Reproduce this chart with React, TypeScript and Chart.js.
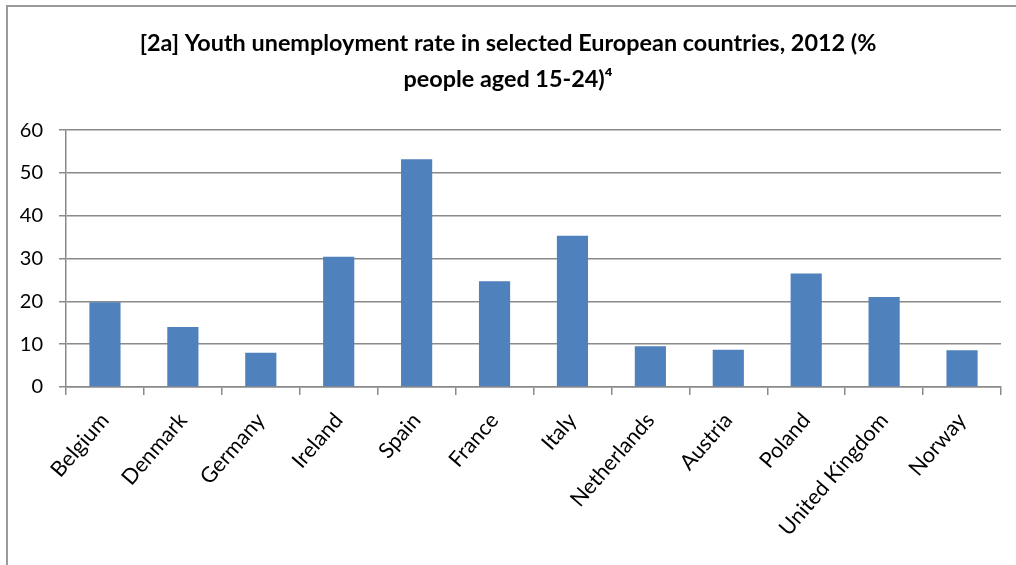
import React, { useEffect, useRef } from "react";
import { Chart, registerables } from "chart.js";

Chart.register(...registerables);

const countries = [
  "Belgium",
  "Denmark",
  "Germany",
  "Ireland",
  "Spain",
  "France",
  "Italy",
  "Netherlands",
  "Austria",
  "Poland",
  "United Kingdom",
  "Norway",
];

const youthUnemployment = [19.8, 14.0, 8.0, 30.4, 53.2, 24.7, 35.3, 9.5, 8.7, 26.5, 21.0, 8.6];

const titleLines = [
  "[2a] Youth unemployment rate in selected European countries, 2012 (%",
  "people aged 15-24)\u2074",
];

const yMin = 0;
const yMax = 60;
const yStep = 10;

const FONT = "Lato, 'Open Sans', sans-serif";
const GRID = "#8a8a8a";

export default function App() {
  const ref = useRef<HTMLCanvasElement | null>(null);

  useEffect(() => {
    if (!ref.current) return;
    const chart = new Chart(ref.current, {
      type: "bar",
      data: {
        labels: countries,
        datasets: [
          {
            label: "Youth unemployment rate",
            data: youthUnemployment,
            backgroundColor: "#4F81BD",
            borderWidth: 0,
            barPercentage: 0.4,
            categoryPercentage: 1,
          },
        ],
      },
      options: {
        responsive: false,
        animation: false,
        layout: { padding: { left: 15, right: 15, top: 0, bottom: 0 } },
        plugins: {
          legend: { display: false },
          tooltip: { enabled: false },
          title: {
            display: true,
            text: titleLines,
            color: "#000",
            font: { family: FONT, size: 23.4, weight: "bold", lineHeight: 1.54 },
            padding: { top: 25, bottom: 33 },
          },
        },
        scales: {
          x: {
            grid: {
              display: true,
              drawOnChartArea: false,
              drawTicks: true,
              tickLength: 8,
              color: GRID,
              lineWidth: 1.5,
              offset: true,
            },
            border: { display: true, color: GRID, width: 1.5 },
            ticks: {
              color: "#000",
              font: { family: FONT, size: 21.5 },
              maxRotation: 49,
              minRotation: 49,
              autoSkip: false,
              padding: 13,
            },
            afterFit: (scale: any) => {
              scale.height = 178;
            },
          },
          y: {
            min: yMin,
            max: yMax,
            grid: {
              color: GRID,
              lineWidth: 1.5,
              drawTicks: true,
              tickLength: 7,
            },
            border: { display: true, color: GRID, width: 1.5 },
            ticks: {
              stepSize: yStep,
              color: "#000",
              font: { family: FONT, size: 20 },
              padding: 16,
            },
            afterFit: (scale: any) => {
              scale.width = 51;
            },
          },
        },
      },
    });
    return () => chart.destroy();
  }, []);

  return (
    <div
      style={{
        position: "absolute",
        left: 0,
        top: 0,
        width: 1016,
        height: 565,
        overflow: "hidden",
        background: "#fff",
      }}
    >
      <div
        style={{
          position: "absolute",
          left: 6,
          top: 5,
          width: 1100,
          height: 700,
          border: "2px solid #9a9a9a",
        }}
      />
      <canvas
        ref={ref}
        width={1016}
        height={565}
        style={{ position: "absolute", left: 0, top: 0, display: "block" }}
      />
    </div>
  );
}
